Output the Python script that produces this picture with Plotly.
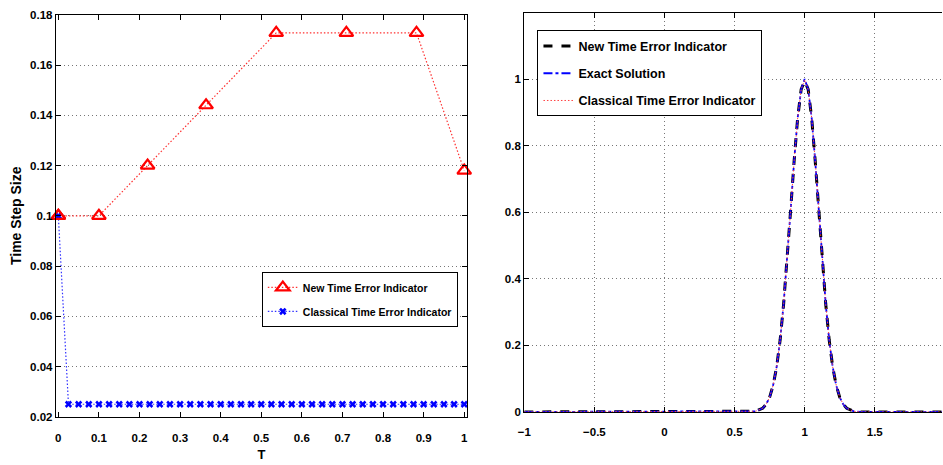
import plotly.graph_objects as go

# ---------------- Left panel data ----------------
t_new = [0.0, 0.1, 0.22, 0.364, 0.5368, 0.7096, 0.8824, 1.0]
dt_new = [0.1, 0.1, 0.12, 0.144, 0.1728, 0.1728, 0.1728, 0.118]

t_classical = [0.0, 0.025, 0.05, 0.075, 0.1, 0.125, 0.15, 0.175, 0.2, 0.225,
               0.25, 0.275, 0.3, 0.325, 0.35, 0.375, 0.4, 0.425, 0.45, 0.475,
               0.5, 0.525, 0.55, 0.575, 0.6, 0.625, 0.65, 0.675, 0.7, 0.725,
               0.75, 0.775, 0.8, 0.825, 0.85, 0.875, 0.9, 0.925, 0.95, 0.975, 1.0]
dt_classical = [0.1, 0.025, 0.025, 0.025, 0.025, 0.025, 0.025, 0.025, 0.025, 0.025,
                0.025, 0.025, 0.025, 0.025, 0.025, 0.025, 0.025, 0.025, 0.025, 0.025,
                0.025, 0.025, 0.025, 0.025, 0.025, 0.025, 0.025, 0.025, 0.025, 0.025,
                0.025, 0.025, 0.025, 0.025, 0.025, 0.025, 0.025, 0.025, 0.025, 0.025, 0.025]

left_xticks = [0, 0.1, 0.2, 0.3, 0.4, 0.5, 0.6, 0.7, 0.8, 0.9, 1]
left_yticks = [0.02, 0.04, 0.06, 0.08, 0.1, 0.12, 0.14, 0.16, 0.18]

# ---------------- Right panel data ----------------
x_grid = [-1.0, -0.9, -0.8, -0.7, -0.6, -0.5, -0.4, -0.3, -0.2, -0.1, 0.0,
          0.1, 0.2, 0.3, 0.4, 0.5, 0.6, 0.65, 0.7, 0.725, 0.75, 0.775, 0.8,
          0.825, 0.85, 0.875, 0.9, 0.925, 0.95, 0.975, 1.0, 1.025, 1.05, 1.075,
          1.1, 1.125, 1.15, 1.175, 1.2, 1.225, 1.25, 1.275, 1.3, 1.35, 1.4,
          1.5, 1.6, 1.7, 1.8, 1.9, 2.0]
u_exact = [0.0, 0.0, 0.0, 0.0, 0.0, 0.0, 0.0, 0.0, 0.0, 0.0, 0.0,
           0.0, 0.0, 0.0, 0.0, 0.0, 0.0, 0.002, 0.011, 0.023, 0.044, 0.080, 0.135,
           0.216, 0.325, 0.458, 0.607, 0.755, 0.883, 0.969, 1.0, 0.969, 0.883, 0.755,
           0.607, 0.458, 0.325, 0.216, 0.135, 0.080, 0.044, 0.023, 0.011, 0.002, 0.0,
           0.0, 0.0, 0.0, 0.0, 0.0, 0.0]
u_new = [0.0, 0.0, 0.0, 0.0, 0.0, 0.0, 0.0, 0.0, 0.0, 0.0, 0.0,
         0.0, 0.0, 0.0, 0.0, 0.0, 0.0, 0.002, 0.011, 0.023, 0.044, 0.080, 0.135,
         0.216, 0.325, 0.458, 0.607, 0.755, 0.883, 0.969, 0.995, 0.969, 0.883, 0.755,
         0.607, 0.458, 0.325, 0.216, 0.135, 0.080, 0.044, 0.023, 0.011, 0.002, 0.0,
         0.0, 0.0, 0.0, 0.0, 0.0, 0.0]
u_classical = [0.0, 0.0, 0.0, 0.0, 0.0, 0.0, 0.0, 0.0, 0.0, 0.0, 0.0,
               0.0, 0.0, 0.0, 0.0, 0.0, 0.0, 0.002, 0.011, 0.023, 0.044, 0.080, 0.135,
               0.216, 0.325, 0.458, 0.607, 0.755, 0.883, 0.969, 0.998, 0.969, 0.883, 0.755,
               0.607, 0.458, 0.325, 0.216, 0.135, 0.080, 0.044, 0.023, 0.011, 0.002, 0.0,
               0.0, 0.0, 0.0, 0.0, 0.0, 0.0]

right_xticks = [-1, -0.5, 0, 0.5, 1, 1.5, 2]
right_yticks = [0, 0.2, 0.4, 0.6, 0.8, 1]

FONT = "Liberation Sans, Arial, Helvetica, sans-serif"
W, H = 943, 465

fig = go.Figure()

fig.add_trace(go.Scatter(
    x=t_new, y=dt_new, mode="lines+markers", name="New Time Error Indicator",
    line=dict(color="#ff3030", width=1.2, dash="1.5px,2px"),
    marker=dict(symbol="triangle-up-open", size=12, color="red", line=dict(width=2.2, color="red")),
    xaxis="x", yaxis="y", legend="legend", legendgroup="a", cliponaxis=False))
fig.add_trace(go.Scatter(
    x=t_classical, y=dt_classical, mode="lines+markers", name="Classical Time Error Indicator",
    line=dict(color="#3030ff", width=1.2, dash="1.5px,2px"),
    marker=dict(symbol="x", size=6.5, color="blue", line=dict(width=0)),
    xaxis="x", yaxis="y", legend="legend", legendgroup="b", cliponaxis=False))
# redraw red marker at T=0 on top
fig.add_trace(go.Scatter(
    x=t_new[:1], y=dt_new[:1], mode="markers", showlegend=False,
    marker=dict(symbol="triangle-up-open", size=12, color="red", line=dict(width=2.2, color="red")),
    xaxis="x", yaxis="y", cliponaxis=False, hoverinfo="skip"))

fig.add_trace(go.Scatter(
    x=x_grid, y=u_new, mode="lines", name="New Time Error Indicator",
    line=dict(color="black", width=3, dash="dash"),
    xaxis="x2", yaxis="y2", legend="legend2", legendgroup="c"))
fig.add_trace(go.Scatter(
    x=x_grid, y=u_exact, mode="lines", name="Exact Solution",
    line=dict(color="blue", width=1.8, dash="dashdot"),
    xaxis="x2", yaxis="y2", legend="legend2", legendgroup="d"))
fig.add_trace(go.Scatter(
    x=x_grid, y=u_classical, mode="lines", name="Classical Time Error Indicator",
    line=dict(color="#ff4040", width=1, dash="1.5px,2px"),
    xaxis="x2", yaxis="y2", legend="legend2", legendgroup="e"))

tickfont = dict(family=FONT, size=11.5, color="black", weight="bold")
common = dict(showline=True, linecolor="black", linewidth=1.2, ticks="inside",
              ticklen=5, tickcolor="black", zeroline=False, tickfont=tickfont,
              griddash="1px,3px", gridcolor="#777777", gridwidth=1)

fig.update_layout(
    width=W, height=H, margin=dict(l=0, r=0, t=0, b=0),
    paper_bgcolor="white", plot_bgcolor="white",
    font=dict(family=FONT, color="black", weight="bold"),
    xaxis=dict(domain=[49.3 / W, 464 / W], range=[-0.006, 1.007], tickvals=left_xticks,
               showgrid=False, mirror="ticks", anchor="y", ticklabelstandoff=10,
               title=dict(text="T", font=dict(family=FONT, size=13, weight="bold"), standoff=7),
               **common),
    yaxis=dict(domain=[(H - 421.7) / H, (H - 9) / H], range=[0.02, 0.18], tickvals=left_yticks,
               showgrid=True, mirror="ticks", anchor="x",
               title=dict(text="Time Step Size",
                          font=dict(family=FONT, size=14, weight="bold"),
                          standoff=5),
               **common),
    xaxis2=dict(domain=[521.7 / W, 1.0], range=[-1, 1.9795], tickvals=right_xticks,
                showgrid=True, mirror="ticks", anchor="y2", ticklabelstandoff=9, **common),
    yaxis2=dict(domain=[(H - 416.7) / H, (H - 6.7) / H], range=[0, 1.2], tickvals=right_yticks,
                showgrid=True, mirror=False, anchor="x2", **common),
    legend=dict(x=257 / W, y=(H - 273) / H, xanchor="left", yanchor="top",
                bgcolor="white", bordercolor="black", borderwidth=1,
                font=dict(family=FONT, size=10.5, color="black", weight="bold"),
                tracegroupgap=5, itemwidth=30),
    legend2=dict(x=535 / W, y=(H - 25) / H, xanchor="left", yanchor="top",
                 bgcolor="white", bordercolor="black", borderwidth=1,
                 font=dict(family=FONT, size=12.5, color="black", weight="bold"),
                 tracegroupgap=8, itemwidth=30),
)

fig.write_html("out.html")
